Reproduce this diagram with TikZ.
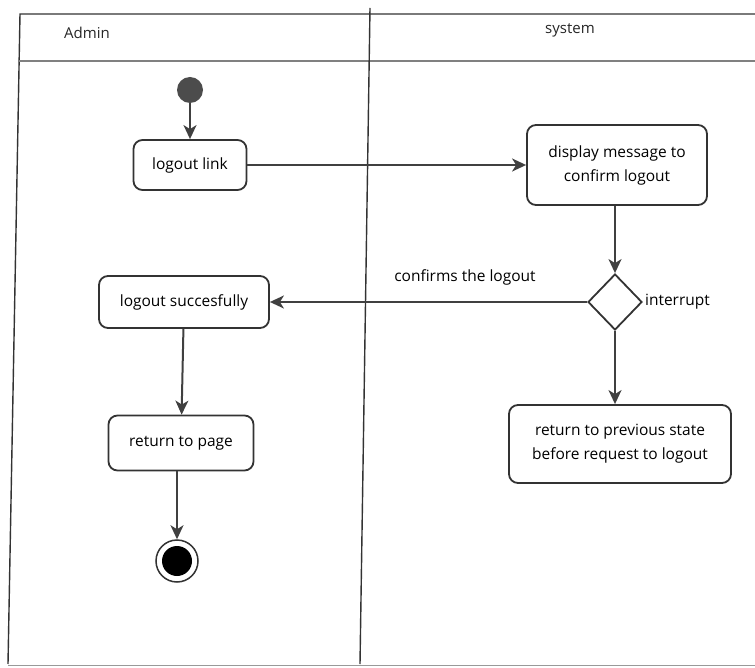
\documentclass[tikz,border=0pt]{standalone}
\usepackage{fontspec}
\setmainfont{Open Sans}
\usetikzlibrary{shapes.geometric, arrows.meta}
\begin{document}
\begin{tikzpicture}[x=1pt, y=-1pt]
            \tikzstyle{lane} = [draw=black!80, line width=1.4pt]
            \tikzstyle{activity} = [draw=black!80, line width=1.8pt, rounded corners=9pt, fill=white, align=center, inner sep=2pt, font=\fontsize{15.5}{24}\selectfont]
            \tikzstyle{flow} = [draw=black!75, line width=2pt, -{Stealth[length=14pt, width=13pt, inset=4pt]}]
            \tikzstyle{caption} = [font=\fontsize{15.5}{18}\selectfont]
            \tikzstyle{lanetitle} = [text=black!85, font=\fontsize{15}{18}\selectfont]
            \useasboundingbox (0, 0) rectangle (755, 668);
            % swimlanes
            \draw[lane] (755, 14) -- (20, 14) -- (8, 664);
            \draw[black!40, line width=1pt] (8, 665) -- (755, 665);
            \draw[black!50, line width=1.2pt] (19, 61) -- (755, 61);
            \draw[lane] (370, 8) -- (360, 664);
            \node[lanetitle] (adminlane) at (87, 33) {Admin};
            \node[lanetitle] (systemlane) at (570, 30) {system};
            % admin side
            \node[circle, fill=black!70, minimum size=26pt, inner sep=0pt] (start) at (190, 90) {};
            \node[activity, minimum width=113pt, minimum height=50pt] (link) at (190, 165) {logout link};
            \node[activity, minimum width=170pt, minimum height=52pt] (done) at (184, 302) {logout succesfully};
            \node[activity, minimum width=145pt, minimum height=55pt] (back) at (181, 443) {return to page};
            \node[circle, draw=black!80, line width=1.5pt, minimum size=42pt, inner sep=0pt] (final) at (177, 561) {};
            \fill (final.center) circle (15);
            % system side
            \node[activity, minimum width=180pt, minimum height=80pt] (confirm) at (617, 165) {display message to\\confirm logout};
            \node[diamond, draw=black!80, line width=1.8pt, fill=white, minimum width=54pt, minimum height=56pt, inner sep=0pt] (choice) at (615, 302) {};
            \node[caption, anchor=west, inner sep=2pt] (interrupt) at (choice.east) {interrupt};
            \node[activity, minimum width=222pt, minimum height=78pt] (previous) at (620, 444) {return to previous state\\before request to logout};
            % flows
            \draw[flow] (start) -- (link);
            \draw[flow] (link) -- (confirm);
            \draw[flow] (confirm.south -| choice) -- (choice);
            \draw[flow] (choice) -- node[caption, pos=0.385, above=12pt] {confirms the logout} (done);
            \draw[flow] (choice) -- (choice |- previous.north);
            \draw[flow] (done) -- (back);
            \draw[flow] (back.south -| final) -- (final);
        \end{tikzpicture}
\end{document}
